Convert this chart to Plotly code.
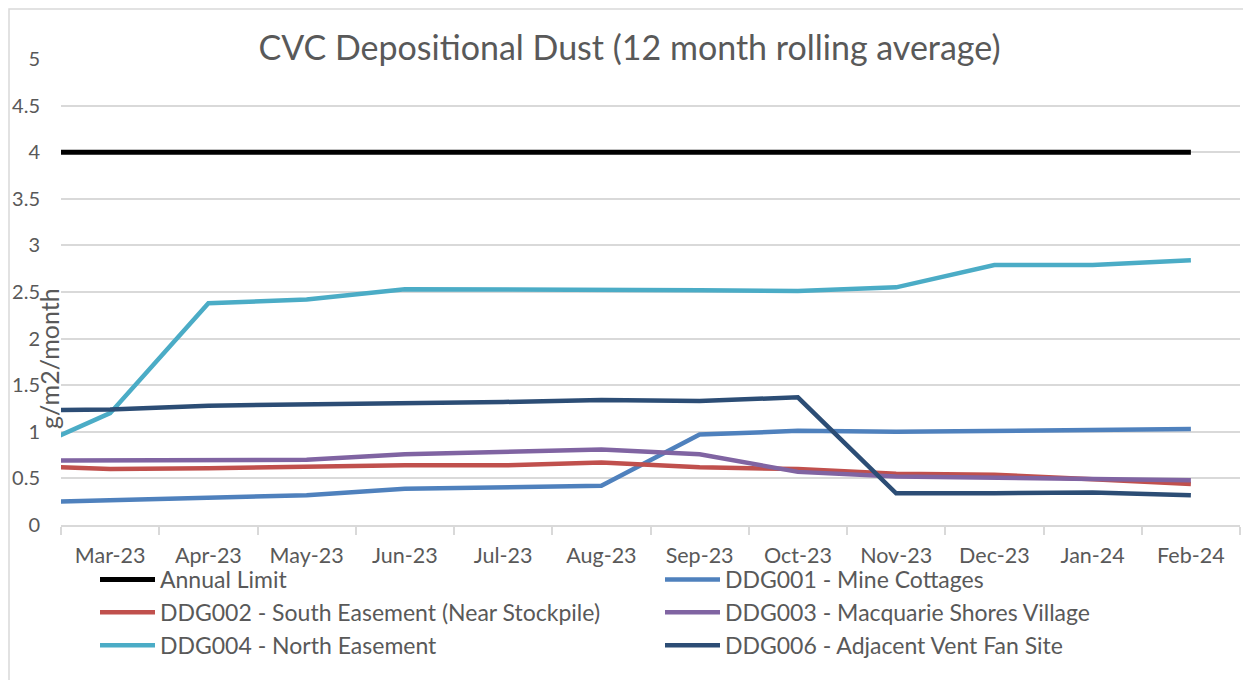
import plotly.graph_objects as go

# ---------------- data ----------------
months = ["Feb-23", "Mar-23", "Apr-23", "May-23", "Jun-23", "Jul-23", "Aug-23",
          "Sep-23", "Oct-23", "Nov-23", "Dec-23", "Jan-24", "Feb-24"]
annual_limit = [4, 4, 4, 4, 4, 4, 4, 4, 4, 4, 4, 4, 4]
ddg001 = [0.24, 0.27, 0.30, 0.32, 0.39, 0.40, 0.42, 0.97, 1.01, 1.00, 1.01, 1.03, 1.03]
ddg002 = [0.64, 0.60, 0.61, 0.63, 0.64, 0.64, 0.67, 0.62, 0.60, 0.55, 0.54, 0.49, 0.44]
ddg003 = [0.69, 0.69, 0.69, 0.70, 0.76, 0.78, 0.81, 0.76, 0.57, 0.52, 0.51, 0.49, 0.48]
ddg004 = [0.73, 1.20, 2.38, 2.42, 2.53, 2.53, 2.52, 2.52, 2.51, 2.55, 2.79, 2.79, 2.84]
ddg006 = [1.23, 1.24, 1.28, 1.29, 1.31, 1.32, 1.34, 1.33, 1.37, 0.34, 0.34, 0.35, 0.32]

series = [
    ("Annual Limit", annual_limit, "#000000", 5),
    ("DDG001 - Mine Cottages", ddg001, "#4F81BD", 4.5),
    ("DDG002 - South Easement (Near Stockpile)", ddg002, "#C0504D", 4.5),
    ("DDG003 - Macquarie Shores Village", ddg003, "#8064A2", 4.5),
    ("DDG004 - North Easement", ddg004, "#4BACC6", 4.5),
    ("DDG006 - Adjacent Vent Fan Site", ddg006, "#2C4D75", 4.5),
]

# ---------------- layout geometry ----------------
# The page body has an 8px margin; the figure is sized to fill the rest.
OFF = 8
PAGE_W, PAGE_H = 1251, 680
W, H = PAGE_W - OFF, PAGE_H - OFF
PLOT_L, PLOT_R, PLOT_T, PLOT_B = 61, 1240, 59, 525   # page pixels
L, R, T, B = PLOT_L - OFF, PAGE_W - PLOT_R, PLOT_T - OFF, PAGE_H - PLOT_B
PW, PH = PLOT_R - PLOT_L, PLOT_B - PLOT_T


def px(x):
    return (x - PLOT_L) / PW


def py(y):
    return (PLOT_B - y) / PH


FONT = "Lato"
GREY = "#595959"

fig = go.Figure()
for name, vals, color, width in series:
    fig.add_trace(go.Scatter(
        x=months, y=vals, name=name, mode="lines",
        line=dict(color=color, width=width),
    ))

fig.update_layout(
    width=W, height=H,
    margin=dict(l=L, r=R, t=T, b=B, autoexpand=False),
    paper_bgcolor="white", plot_bgcolor="white",
    font=dict(family=FONT, color=GREY, size=20),
    title=dict(text="CVC Depositional Dust (12 month rolling average)",
               x=0.5, xref="container", xanchor="center",
               y=1 - (48 - OFF) / H, yref="container", yanchor="middle",
               font=dict(family=FONT, size=34, color=GREY)),
    showlegend=True,
    legend=dict(orientation="h", x=px(95), xanchor="left",
                y=py(558), yanchor="top",
                entrywidth=495, entrywidthmode="pixels",
                itemwidth=55,
                font=dict(family=FONT, size=23, color=GREY),
                bgcolor="rgba(0,0,0,0)"),
    xaxis=dict(type="category", range=[0.5, 12.5], tickson="boundaries",
               showgrid=False, showline=True, linecolor="#D9D9D9", linewidth=1.5,
               ticks="outside", ticklen=8, tickcolor="#D9D9D9", tickwidth=1.5,
               tickfont=dict(family=FONT, size=21.5, color=GREY),
               ticklabelstandoff=10),
    yaxis=dict(range=[0, 5], dtick=0.5, tick0=0, showgrid=True,
               gridcolor="#D9D9D9", gridwidth=1.5, zeroline=False,
               showline=False, ticks="",
               tickfont=dict(family=FONT, size=20, color=GREY),
               ticklabelstandoff=20),
    annotations=[dict(text="g/m2/month", textangle=-90, showarrow=False,
                      xref="paper", yref="paper", x=px(49), y=py(359),
                      xanchor="center", yanchor="middle",
                      font=dict(family=FONT, size=25, color=GREY))],
    shapes=[dict(type="rect", xref="paper", yref="paper",
                 x0=px(9), x1=px(PAGE_W + 10), y0=py(PAGE_H + 10), y1=py(9),
                 line=dict(color="#D9D9D9", width=1.5), layer="below")],
)

fig.write_html("out.html")
